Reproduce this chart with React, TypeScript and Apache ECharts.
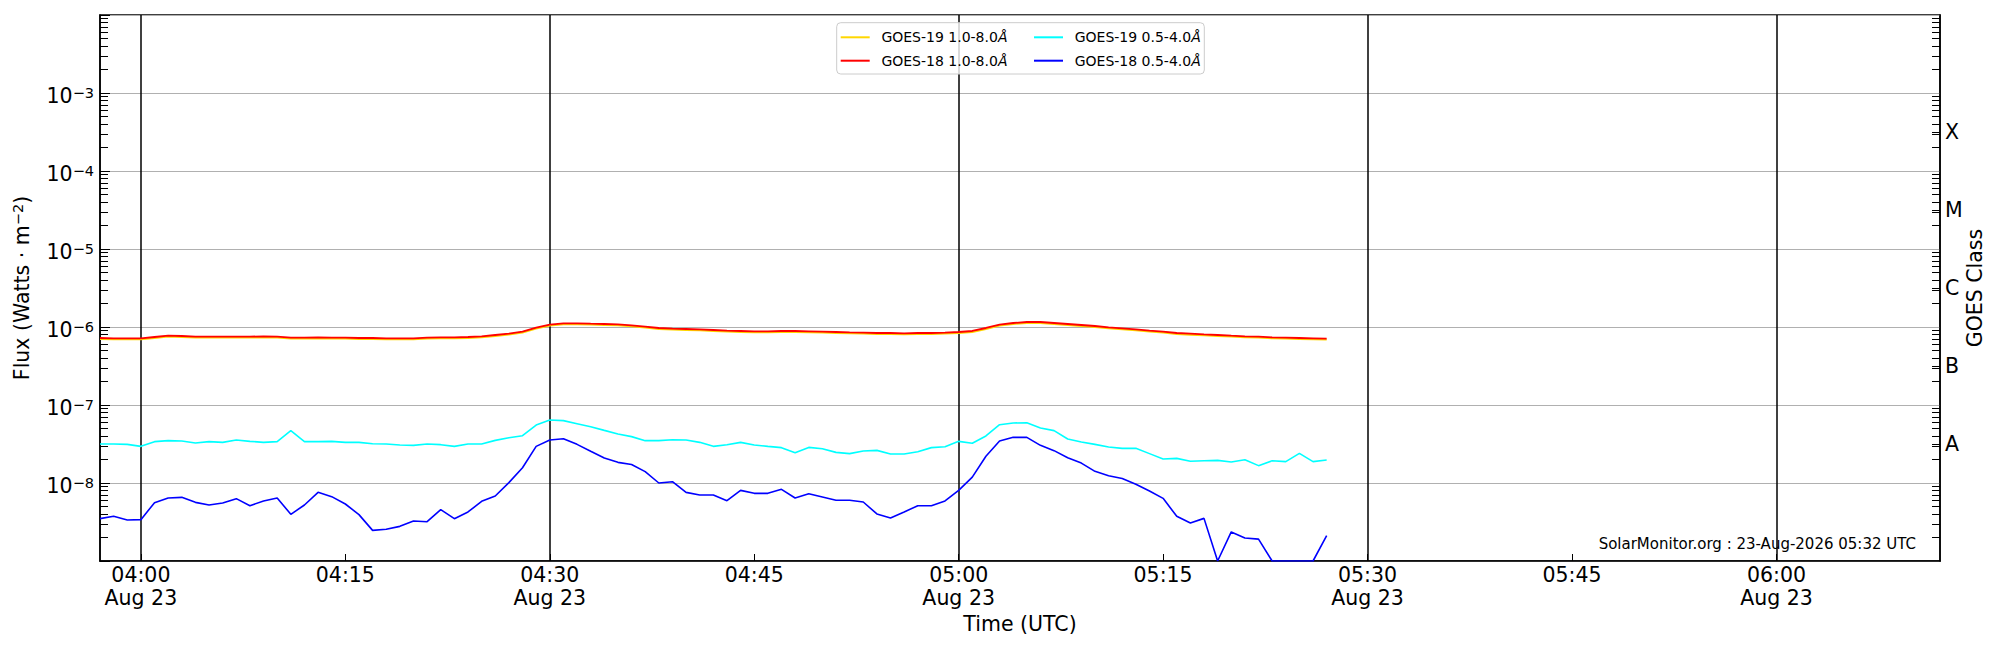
import React, { useEffect, useRef } from "react";
import * as echarts from "echarts";

// ---------- data (W m^-2), one sample per minute starting at firstSampleUTC ----------
const obsDate = "2026-08-23";
const firstSampleUTC = "03:57";
const sampleStepMinutes = 1;
const axisStartUTC = "03:57";
const axisEndUTC = "06:12";

const goes19Long = [
  7.01e-7, 6.95e-7, 6.95e-7, 6.95e-7, 7.22e-7, 7.51e-7, 7.44e-7, 7.29e-7, 7.29e-7, 7.29e-7, 7.29e-7, 7.29e-7,
  7.36e-7, 7.29e-7, 7.08e-7, 7.08e-7, 7.15e-7, 7.08e-7, 7.08e-7, 7.01e-7, 7.01e-7, 6.95e-7, 6.95e-7, 6.95e-7,
  7.08e-7, 7.15e-7, 7.15e-7, 7.22e-7, 7.36e-7, 7.66e-7, 7.96e-7, 8.45e-7, 9.52e-7, 1.039e-6, 1.081e-6, 1.081e-6,
  1.07e-6, 1.06e-6, 1.05e-6, 1.019e-6, 9.8e-7, 9.42e-7, 9.23e-7, 9.15e-7, 9.05e-7, 8.88e-7, 8.7e-7,
  8.62e-7, 8.54e-7, 8.54e-7, 8.62e-7, 8.62e-7, 8.54e-7, 8.45e-7, 8.37e-7, 8.28e-7, 8.21e-7, 8.13e-7, 8.13e-7,
  8.04e-7, 8.13e-7, 8.13e-7, 8.21e-7, 8.37e-7, 8.62e-7, 9.42e-7, 1.039e-6, 1.091e-6, 1.124e-6, 1.124e-6,
  1.091e-6, 1.06e-6, 1.029e-6, 9.99e-7, 9.6e-7, 9.32e-7, 9.05e-7, 8.7e-7, 8.45e-7, 8.13e-7, 7.96e-7,
  7.81e-7, 7.66e-7, 7.51e-7, 7.36e-7, 7.29e-7, 7.15e-7, 7.08e-7, 7.01e-7, 6.95e-7, 6.88e-7,
];

const goes18Long = [
  7.23e-7, 7.16e-7, 7.16e-7, 7.16e-7, 7.44e-7, 7.74e-7, 7.67e-7, 7.52e-7, 7.52e-7, 7.52e-7, 7.52e-7, 7.52e-7,
  7.59e-7, 7.52e-7, 7.3e-7, 7.3e-7, 7.37e-7, 7.3e-7, 7.3e-7, 7.23e-7, 7.23e-7, 7.16e-7, 7.16e-7, 7.16e-7,
  7.3e-7, 7.37e-7, 7.37e-7, 7.44e-7, 7.59e-7, 7.9e-7, 8.21e-7, 8.71e-7, 9.81e-7, 1.071e-6, 1.114e-6, 1.114e-6,
  1.103e-6, 1.093e-6, 1.082e-6, 1.05e-6, 1.01e-6, 9.71e-7, 9.52e-7, 9.43e-7, 9.33e-7, 9.15e-7, 8.97e-7,
  8.89e-7, 8.8e-7, 8.8e-7, 8.89e-7, 8.89e-7, 8.8e-7, 8.71e-7, 8.63e-7, 8.54e-7, 8.46e-7, 8.38e-7, 8.38e-7,
  8.29e-7, 8.38e-7, 8.38e-7, 8.46e-7, 8.63e-7, 8.89e-7, 9.71e-7, 1.071e-6, 1.125e-6, 1.159e-6, 1.159e-6,
  1.125e-6, 1.093e-6, 1.061e-6, 1.03e-6, 9.9e-7, 9.61e-7, 9.33e-7, 8.97e-7, 8.71e-7, 8.38e-7, 8.21e-7,
  8.05e-7, 7.9e-7, 7.74e-7, 7.59e-7, 7.52e-7, 7.37e-7, 7.3e-7, 7.23e-7, 7.16e-7, 7.09e-7,
];

const goes19Short = [
  3.16e-8, 3.16e-8, 3.13e-8, 2.95e-8, 3.39e-8, 3.49e-8, 3.45e-8, 3.26e-8, 3.39e-8, 3.32e-8, 3.56e-8, 3.42e-8,
  3.32e-8, 3.39e-8, 4.69e-8, 3.39e-8, 3.39e-8, 3.42e-8, 3.32e-8, 3.32e-8, 3.19e-8, 3.16e-8, 3.07e-8, 3.04e-8,
  3.16e-8, 3.1e-8, 2.95e-8, 3.16e-8, 3.16e-8, 3.52e-8, 3.81e-8, 4.04e-8, 5.54e-8, 6.42e-8, 6.3e-8, 5.76e-8,
  5.27e-8, 4.73e-8, 4.25e-8, 3.93e-8, 3.49e-8, 3.49e-8, 3.59e-8, 3.56e-8, 3.32e-8, 2.95e-8, 3.1e-8,
  3.32e-8, 3.07e-8, 2.95e-8, 2.84e-8, 2.45e-8, 2.86e-8, 2.75e-8, 2.47e-8, 2.38e-8, 2.57e-8, 2.62e-8, 2.35e-8,
  2.35e-8, 2.52e-8, 2.84e-8, 2.92e-8, 3.42e-8, 3.23e-8, 4.01e-8, 5.59e-8, 5.88e-8, 5.93e-8, 5.07e-8,
  4.69e-8, 3.66e-8, 3.36e-8, 3.13e-8, 2.9e-8, 2.78e-8, 2.78e-8, 2.38e-8, 2.03e-8, 2.07e-8, 1.9e-8,
  1.93e-8, 1.95e-8, 1.86e-8, 1.99e-8, 1.67e-8, 1.93e-8, 1.88e-8, 2.4e-8, 1.88e-8, 1.97e-8,
];

const goes18Short = [
  3.49e-9, 3.74e-9, 3.36e-9, 3.39e-9, 5.6e-9, 6.43e-9, 6.55e-9, 5.65e-9, 5.22e-9, 5.54e-9, 6.3e-9, 5.12e-9,
  5.88e-9, 6.43e-9, 3.97e-9, 5.22e-9, 7.59e-9, 6.68e-9, 5.38e-9, 3.93e-9, 2.47e-9, 2.55e-9, 2.78e-9, 3.26e-9,
  3.19e-9, 4.55e-9, 3.49e-9, 4.25e-9, 5.82e-9, 6.81e-9, 1.01e-8, 1.57e-8, 2.95e-8, 3.56e-8, 3.7e-8, 3.13e-8,
  2.55e-8, 2.09e-8, 1.84e-8, 1.73e-8, 1.4e-8, 1.0e-8, 1.04e-8, 7.59e-9, 7.02e-9, 7.02e-9, 5.94e-9,
  8.05e-9, 7.37e-9, 7.37e-9, 8.3e-9, 6.43e-9, 7.3e-9, 6.62e-9, 6.0e-9, 6.0e-9, 5.71e-9, 4.01e-9, 3.56e-9,
  4.25e-9, 5.12e-9, 5.12e-9, 5.88e-9, 8.05e-9, 1.19e-8, 2.2e-8, 3.45e-8, 3.85e-8, 3.85e-8, 3.04e-8,
  2.6e-8, 2.11e-8, 1.8e-8, 1.41e-8, 1.24e-8, 1.14e-8, 9.62e-9, 7.89e-9, 6.36e-9, 3.74e-9, 3.07e-9,
  3.52e-9, 1.0e-9, 2.36e-9, 1.97e-9, 1.91e-9, 1.0e-9, 1.0e-9, 1.0e-9, 1.0e-9, 2.11e-9,
];

const seriesNames = ["GOES-19 1.0-8.0Å", "GOES-18 1.0-8.0Å", "GOES-19 0.5-4.0Å", "GOES-18 0.5-4.0Å"];
const seriesColors = ["#FFD700", "#FF0000", "#00FFFF", "#0000FF"];

// ---------- ticks and labels ----------
const timeTicksUTC = ["04:00", "04:15", "04:30", "04:45", "05:00", "05:15", "05:30", "05:45", "06:00"];
const markerLinesUTC = ["04:00", "04:30", "05:00", "05:30", "06:00"];
const monthNames = ["Jan", "Feb", "Mar", "Apr", "May", "Jun", "Jul", "Aug", "Sep", "Oct", "Nov", "Dec"];
const fluxTickExponents = [-9, -8, -7, -6, -5, -4, -3, -2];
const fluxLabelExponents = [-8, -7, -6, -5, -4, -3];
const minorMantissas = [2, 3, 4, 5, 6, 7, 8, 9];
const classLabels = ["A", "B", "C", "M", "X"];
const classCenterExponents = [-7.5, -6.5, -5.5, -4.5, -3.5];
const footerText = "SolarMonitor.org : 23-Aug-2026 05:32 UTC";

const FONT = "DejaVu Sans";

const toMs = (hhmm: string) => Date.parse(`${obsDate}T${hhmm}:00Z`);

export default function App() {
  const ref = useRef<HTMLDivElement>(null);

  useEffect(() => {
    if (!ref.current) return;
    const chart = echarts.init(ref.current, undefined, { renderer: "svg" });

    const t0 = toMs(firstSampleUTC);
    const step = sampleStepMinutes * 60000;
    const pairs = (arr: number[]) => arr.map((v, i) => [t0 + i * step, v]);
    const allSeries = [goes19Long, goes18Long, goes19Short, goes18Short];

    const tickMs = timeTicksUTC.map(toMs);
    const markerMs = markerLinesUTC.map(toMs);
    const decadeValues = fluxTickExponents.map((e) => Math.pow(10, e));
    const labelValues = fluxLabelExponents.map((e) => Math.pow(10, e));
    const minorValues = fluxTickExponents
      .slice(0, -1)
      .flatMap((e) => minorMantissas.map((m) => m * Math.pow(10, e)));
    const classValues = classCenterExponents.map((e) => Math.pow(10, e));

    const timeLabel = (v: number) => {
      const d = new Date(v);
      const hh = String(d.getUTCHours()).padStart(2, "0");
      const mm = String(d.getUTCMinutes()).padStart(2, "0");
      const head = `${hh}:${mm}`;
      return d.getUTCMinutes() % 30 === 0
        ? `${head}\n${monthNames[d.getUTCMonth()]} ${d.getUTCDate()}`
        : head;
    };

    const fluxLabel = (v: number) => {
      const e = Math.round(Math.log10(v));
      return `{b|10}{sup|−${-e}}`;
    };

    const classLabel = (v: number) => {
      const lv = Math.log10(v);
      const idx = classCenterExponents.findIndex((e) => Math.abs(e - lv) < 0.01);
      return idx >= 0 ? classLabels[idx] : "";
    };

    const legendRich = { i: { fontStyle: "italic", fontSize: 14, fontFamily: FONT, color: "#000" } };
    const legendFormatter = (name: string) => name.replace("Å", "{i|Å}");
    const legendCommon = {
      orient: "vertical",
      top: 29.3,
      padding: 0,
      itemWidth: 29,
      itemHeight: 2,
      itemGap: 7.4,
      icon: "rect",
      z: 200,
      formatter: legendFormatter,
      textStyle: {
        fontSize: 14,
        lineHeight: 16,
        color: "#000",
        fontFamily: FONT,
        padding: [0, 0, 0, 6.7],
        rich: legendRich,
      },
    };

    const option: any = {
      animation: false,
      textStyle: { fontFamily: FONT },
      grid: {
        left: 100,
        right: 60,
        top: 15,
        bottom: 89,
        show: true,
        borderColor: "#000",
        borderWidth: 1.5,
        backgroundColor: "transparent",
        containLabel: false,
        outerBoundsMode: "none",
      },
      legend: [
        { ...legendCommon, left: 840.7, data: [seriesNames[0], seriesNames[1]] },
        { ...legendCommon, left: 1034, data: [seriesNames[2], seriesNames[3]] },
      ],
      xAxis: [
        {
          type: "value",
          min: toMs(axisStartUTC),
          max: toMs(axisEndUTC),
          name: "Time (UTC)",
          nameLocation: "middle",
          nameGap: 51,
          nameMoveOverlap: false,
          nameTextStyle: { fontSize: 20.5, lineHeight: 24, color: "#000", fontFamily: FONT },
          axisLine: { show: true, lineStyle: { color: "#000", width: 1.5 } },
          axisTick: {
            show: true,
            inside: true,
            length: 7,
            customValues: tickMs,
            lineStyle: { color: "#000", width: 1 },
          },
          axisLabel: {
            customValues: tickMs,
            formatter: timeLabel,
            fontSize: 20.5,
            lineHeight: 23,
            margin: 2,
            color: "#000",
            fontFamily: FONT,
          },
          splitLine: { show: false },
        },
      ],
      yAxis: [
        {
          type: "log",
          logBase: 10,
          min: 1e-9,
          max: 1e-2,
          position: "left",
          name: "Flux (Watts · m{sup|−2})",
          nameLocation: "middle",
          nameGap: 66,
          nameRotate: 90,
          nameMoveOverlap: false,
          nameTextStyle: {
            fontSize: 20.5,
            lineHeight: 24,
            color: "#000",
            fontFamily: FONT,
            rich: {
              sup: { fontSize: 14.5, lineHeight: 14, verticalAlign: "top", color: "#000", fontFamily: FONT },
            },
          },
          axisLine: { show: true, lineStyle: { color: "#000", width: 1.5 } },
          axisTick: {
            show: true,
            inside: true,
            length: 10,
            customValues: decadeValues,
            lineStyle: { color: "#000", width: 1 },
          },
          axisLabel: {
            customValues: labelValues,
            formatter: fluxLabel,
            margin: 6,
            padding: [5, 0, 0, 0],
            color: "#000",
            rich: {
              b: { fontSize: 20.5, lineHeight: 21, verticalAlign: "bottom", color: "#000", fontFamily: FONT },
              sup: { fontSize: 14.5, lineHeight: 15, verticalAlign: "top", color: "#000", fontFamily: FONT },
            },
          },
          splitLine: { show: true, lineStyle: { color: "#b0b0b0", width: 1 } },
        },
        {
          type: "log",
          logBase: 10,
          min: 1e-9,
          max: 1e-2,
          position: "right",
          name: "GOES Class",
          nameLocation: "middle",
          nameGap: 23,
          nameRotate: 90,
          nameMoveOverlap: false,
          nameTextStyle: { fontSize: 20.5, lineHeight: 24, color: "#000", fontFamily: FONT },
          axisLine: { show: true, lineStyle: { color: "#000", width: 1.5 } },
          axisTick: {
            show: true,
            inside: true,
            length: 8,
            customValues: [...minorValues, ...classValues],
            lineStyle: { color: "#000", width: 1 },
          },
          axisLabel: {
            customValues: classValues,
            formatter: classLabel,
            margin: 5,
            fontSize: 20.5,
            color: "#000",
            fontFamily: FONT,
          },
          splitLine: { show: false },
        },
        {
          type: "log",
          logBase: 10,
          min: 1e-9,
          max: 1e-2,
          position: "left",
          axisLine: { show: false },
          axisTick: {
            show: true,
            inside: true,
            length: 8,
            customValues: minorValues,
            lineStyle: { color: "#000", width: 1 },
          },
          axisLabel: { show: false },
          splitLine: { show: false },
        },
      ],
      series: allSeries.map((arr, i) => ({
        name: seriesNames[i],
        type: "line",
        xAxisIndex: 0,
        yAxisIndex: 0,
        data: pairs(arr),
        showSymbol: false,
        symbol: "none",
        color: seriesColors[i],
        itemStyle: { color: seriesColors[i] },
        lineStyle: { color: seriesColors[i], width: i < 2 ? 1.8 : 1.6 },
        z: 2,
        ...(i === 0
          ? {
              markLine: {
                silent: true,
                z: 1,
                symbol: ["none", "none"],
                label: { show: false },
                lineStyle: { color: "#000", width: 1.5, type: "solid" },
                emphasis: { disabled: true },
                data: markerMs.map((t) => ({ xAxis: t })),
              },
            }
          : {}),
      })),
      graphic: [
        {
          type: "rect",
          z: 100,
          silent: true,
          shape: { x: 836.7, y: 22.7, width: 367.6, height: 51.3, r: 4 },
          style: { fill: "rgba(255,255,255,0.8)", stroke: "#cccccc", lineWidth: 1 },
        },
        {
          type: "text",
          z: 100,
          silent: true,
          x: 1916,
          y: 544,
          style: {
            text: footerText,
            font: `15px "${FONT}"`,
            fontSize: 15,
            fontFamily: FONT,
            fill: "#000",
            align: "right",
            verticalAlign: "middle",
          },
        },
      ],
    };

    chart.setOption(option);
    return () => chart.dispose();
  }, []);

  return (
    <div
      ref={ref}
      style={{ position: "fixed", left: 0, top: 0, width: 2000, height: 650, background: "#fff" }}
    />
  );
}
